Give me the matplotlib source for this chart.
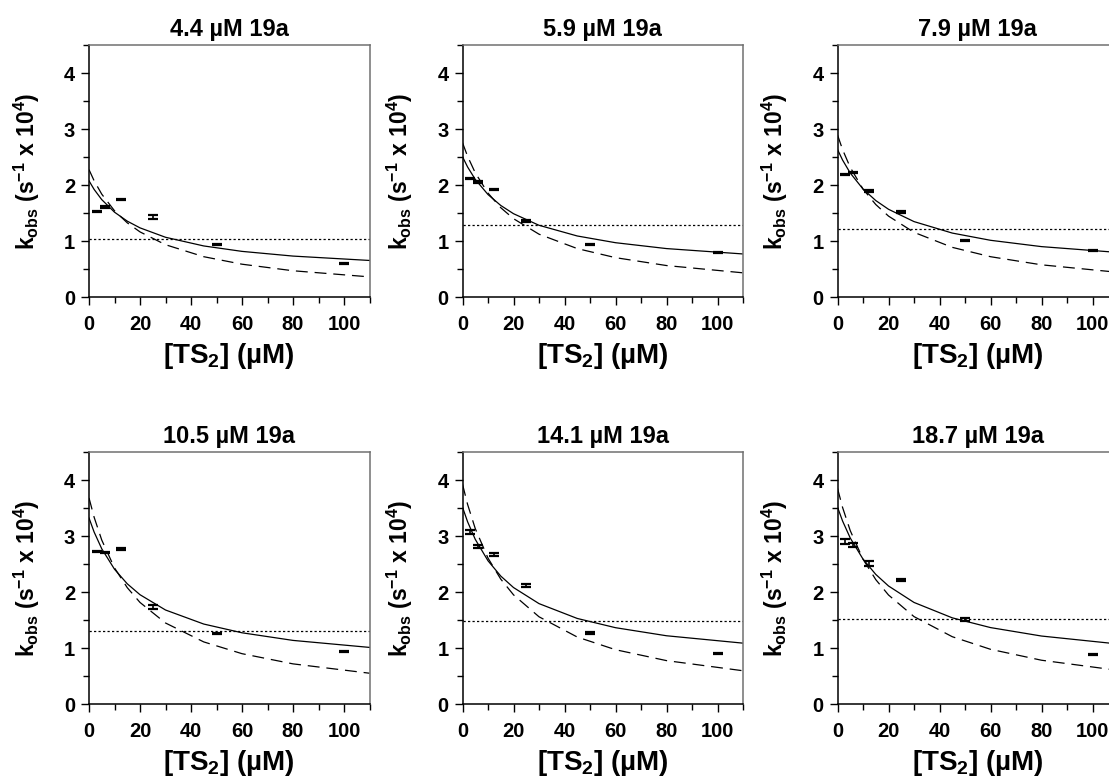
#!/usr/bin/env python3
"""
Six-panel kobs vs [TS2] plot at increasing 19a concentrations.

Each panel: measured kobs (error bars only), two fitted curves
(solid, dashed) and a flat reference line (dotted).
"""

import matplotlib
matplotlib.use('Agg')
import matplotlib.pyplot as plt
from matplotlib.ticker import MultipleLocator

# --- data -----------------------------------------------------------------
PANEL_TITLES = ['4.4 µM 19a', '5.9 µM 19a', '7.9 µM 19a',
                '10.5 µM 19a', '14.1 µM 19a', '18.7 µM 19a']

TS2 = [3.125, 6.25, 12.5, 25, 50, 100]

KOBS = [
    [1.535, 1.610, 1.743, 1.433, 0.946, 0.607],
    [2.124, 2.059, 1.920, 1.368, 0.940, 0.795],
    [2.196, 2.225, 1.904, 1.529, 1.017, 0.840],
    [2.725, 2.707, 2.772, 1.735, 1.264, 0.936],
    [3.076, 2.814, 2.670, 2.128, 1.276, 0.900],
    [2.903, 2.844, 2.516, 2.218, 1.514, 0.889],
]

KOBS_ERR = [
    [0.012, 0.012, 0.012, 0.030, 0.012, 0.008],
    [0.012, 0.012, 0.012, 0.015, 0.012, 0.008],
    [0.012, 0.012, 0.015, 0.020, 0.012, 0.008],
    [0.012, 0.012, 0.025, 0.030, 0.015, 0.008],
    [0.035, 0.025, 0.025, 0.025, 0.015, 0.010],
    [0.040, 0.030, 0.040, 0.025, 0.020, 0.010],
]

# fitted curves at these [TS2] values
X_FIT = [0, 2, 5, 10, 15, 20, 30, 45, 60, 80, 110]

FIT_SOLID = [
    [2.080, 1.927, 1.744, 1.520, 1.360, 1.240, 1.072, 0.917, 0.820, 0.736, 0.658],
    [2.510, 2.327, 2.106, 1.835, 1.640, 1.493, 1.286, 1.095, 0.975, 0.870, 0.774],
    [2.640, 2.450, 2.219, 1.934, 1.728, 1.572, 1.352, 1.147, 1.018, 0.905, 0.801],
    [3.327, 3.077, 2.777, 2.412, 2.152, 1.957, 1.684, 1.433, 1.277, 1.141, 1.016],
    [3.520, 3.259, 2.946, 2.563, 2.290, 2.085, 1.798, 1.533, 1.368, 1.224, 1.092],
    [3.520, 3.272, 2.969, 2.593, 2.320, 2.113, 1.819, 1.544, 1.370, 1.219, 1.077],
]

FIT_DASHED = [
    [2.280, 2.082, 1.842, 1.545, 1.330, 1.168, 0.939, 0.725, 0.591, 0.474, 0.365],
    [2.760, 2.517, 2.223, 1.861, 1.600, 1.404, 1.127, 0.870, 0.708, 0.567, 0.437],
    [2.900, 2.636, 2.320, 1.933, 1.657, 1.450, 1.160, 0.892, 0.725, 0.580, 0.446],
    [3.685, 3.342, 2.933, 2.436, 2.083, 1.819, 1.452, 1.114, 0.904, 0.722, 0.555],
    [3.930, 3.569, 3.138, 2.611, 2.236, 1.955, 1.563, 1.201, 0.975, 0.780, 0.599],
    [3.857, 3.514, 3.101, 2.592, 2.227, 1.952, 1.566, 1.207, 0.982, 0.787, 0.606],
]

FIT_FLAT = [1.041, 1.300, 1.226, 1.311, 1.496, 1.520]

# --- style ----------------------------------------------------------------
plt.rcParams['font.family'] = ['Liberation Sans', 'DejaVu Sans']
plt.rcParams['font.weight'] = 'bold'
plt.rcParams['mathtext.fontset'] = 'custom'
plt.rcParams['mathtext.rm'] = 'Liberation Sans:bold'
plt.rcParams['mathtext.it'] = 'Liberation Sans:bold'
plt.rcParams['mathtext.bf'] = 'Liberation Sans:bold'

LEFTS = [89, 462.5, 837.5]      # px, left spine of each column
BOTTOMS = [297.3, 704.3]        # px, y=0 of each row
W_PX, H_PX = 280.5, 252.0
FIG_W, FIG_H = 1109, 780


def draw_panel(ax, i):
    ax.plot(X_FIT, FIT_SOLID[i], color='black', lw=0.9)
    ax.plot(X_FIT, FIT_DASHED[i], color='black', lw=0.9,
            linestyle=(0, (9.5, 5.5)))
    ax.axhline(FIT_FLAT[i], color='black', lw=0.9, linestyle=(0, (1.8, 1.8)))
    ax.errorbar(TS2, KOBS[i], yerr=KOBS_ERR[i], fmt='none', ecolor='black',
                elinewidth=1.2, capsize=3.8, capthick=1.6)

    ax.set_xlim(0, 110)
    ax.set_ylim(0, 4.5)
    ax.xaxis.set_major_locator(MultipleLocator(20))
    ax.xaxis.set_minor_locator(MultipleLocator(10))
    ax.yaxis.set_major_locator(MultipleLocator(1))
    ax.yaxis.set_minor_locator(MultipleLocator(0.5))
    ax.tick_params(which='major', direction='out', length=6, width=1,
                   labelsize=14.5)
    ax.tick_params(which='minor', direction='out', length=4.5, width=1)
    ax.tick_params(axis='x', which='major', pad=7)
    ax.tick_params(axis='y', which='major', pad=4)
    for lbl in ax.get_xticklabels() + ax.get_yticklabels():
        lbl.set_fontweight('bold')

    for side in ('left', 'bottom'):
        ax.spines[side].set_linewidth(1.1)
        ax.spines[side].set_color('black')
    for side in ('top', 'right'):
        ax.spines[side].set_linewidth(1.1)
        ax.spines[side].set_color('#707070')

    ax.set_title(PANEL_TITLES[i], fontsize=17, fontweight='bold', pad=7)
    ax.set_xlabel('[TS$_{2}$] (µM)', fontsize=20, fontweight='bold',
                  labelpad=5)
    ax.set_ylabel('k$_{obs}$ (s$^{-1}$ x 10$^{4}$)', fontsize=16.5,
                  fontweight='bold', labelpad=16)


def main():
    fig = plt.figure(figsize=(FIG_W / 100, FIG_H / 100), dpi=100)
    for i in range(6):
        row, col = divmod(i, 3)
        rect = [LEFTS[col] / FIG_W, 1 - BOTTOMS[row] / FIG_H,
                W_PX / FIG_W, H_PX / FIG_H]
        ax = fig.add_axes(rect)
        draw_panel(ax, i)
    fig.savefig('out.png', dpi=100)


if __name__ == '__main__':
    main()
